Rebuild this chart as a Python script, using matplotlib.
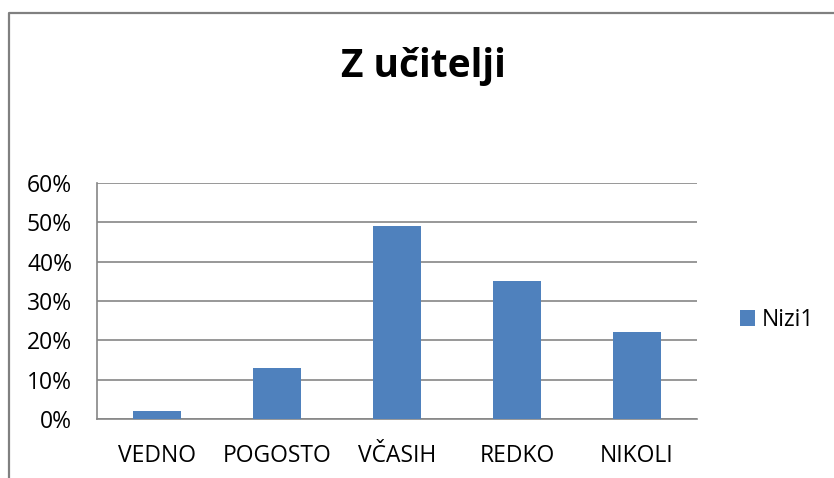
import matplotlib.pyplot as plt
from matplotlib.lines import Line2D
from matplotlib.ticker import FuncFormatter

# chart data
categories = ['VEDNO', 'POGOSTO', 'VČASIH', 'REDKO', 'NIKOLI']
values = [0.02, 0.13, 0.49, 0.35, 0.22]
series_name = 'Nizi1'
title = 'Z učitelji'

bar_color = '#4F81BD'
grid_color = '#868686'

plt.rcParams['font.family'] = ['Open Sans', 'DejaVu Sans']

W, H = 834, 478
fig = plt.figure(figsize=(W / 100, H / 100), dpi=100)
ax = fig.add_axes([97 / W, 1 - 419 / H, (697 - 97) / W, (419 - 183) / H])

xs = range(len(categories))
bars = ax.bar(xs, values, width=0.4, color=bar_color, label=series_name, zorder=3)

ax.set_xlim(-0.5, len(categories) - 0.5)
ax.set_ylim(0, 0.6)
ax.set_yticks([0, 0.1, 0.2, 0.3, 0.4, 0.5, 0.6])
ax.yaxis.set_major_formatter(FuncFormatter(lambda v, p: '{:.0f}%'.format(v * 100)))
ax.set_xticks(list(xs))
ax.set_xticklabels(categories)
ax.tick_params(axis='both', length=0, labelsize=16.5)
ax.tick_params(axis='y', pad=18)
ax.tick_params(axis='x', pad=18)

ax.grid(axis='y', color=grid_color, linewidth=1.2, zorder=0)
for s in ['top', 'right']:
    ax.spines[s].set_visible(False)
for s in ['left', 'bottom']:
    ax.spines[s].set_color(grid_color)
    ax.spines[s].set_linewidth(1.2)

fig.text(423.5 / W, 1 - 77 / H, title, ha='center', va='baseline',
         fontsize=28, fontweight='bold')

fig.legend(handles=[bars], labels=[series_name], loc='center left',
           bbox_to_anchor=(740 / W, 1 - 320 / H), frameon=False,
           fontsize=16.5, handlelength=0.65, handleheight=0.65,
           handletextpad=0.3, borderpad=0, borderaxespad=0)

# outer chart border (top and left visible in the crop)
fig.add_artist(Line2D([9 / W, 9 / W, 1.0], [0.0, 1 - 12.5 / H, 1 - 12.5 / H],
                      transform=fig.transFigure, color='#808080', linewidth=1.6))

fig.savefig('out.png', dpi=100)
